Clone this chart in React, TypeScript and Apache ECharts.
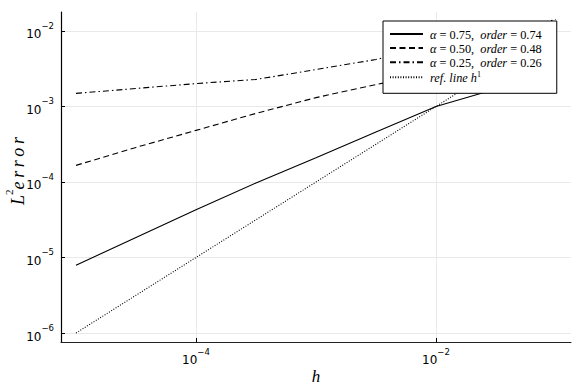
import React, { useEffect, useRef } from 'react';
import * as echarts from 'echarts';

const hValues = [1e-5, 3.16e-5, 1e-4, 3.16e-4, 1e-3, 3.16e-3, 1e-2, 3.16e-2, 1e-1];
const err075 = [7.9e-6, 1.84e-5, 4.3e-5, 9.7e-5, 2.1e-4, 4.6e-4, 1.0e-3, 1.7e-3, 2.5e-3];
const err050 = [1.66e-4, 2.87e-4, 4.82e-4, 8.1e-4, 1.31e-3, 1.95e-3, 2.82e-3, 3.82e-3, 5.18e-3];
const err025 = [1.49e-3, 1.73e-3, 2.01e-3, 2.28e-3, 3.08e-3, 4.19e-3, 6.41e-3, 9.5e-3, 1.42e-2];
const refLine = [1e-6, 3.16e-6, 1e-5, 3.16e-5, 1e-4, 3.16e-4, 1e-3, 3.16e-3, 1e-2];

const alphaLabels = ['0.75', '0.50', '0.25'];
const orderLabels = ['0.74', '0.48', '0.26'];
const refName = 'ref. line h^1';

const xTicks = [1e-4, 1e-2];
const yTicks = [1e-6, 1e-5, 1e-4, 1e-3, 1e-2];

const SERIF = 'Liberation Serif';
const SANS = 'DejaVu Sans';

export default function App() {
  const ref = useRef<HTMLDivElement>(null);
  useEffect(() => {
    const chart = echarts.init(ref.current!, null, { renderer: 'svg' });

    const supLabel = (v: number) => {
      const e = Math.round(Math.log10(v));
      return `{b|10}{s|${e < 0 ? '\u2212' + -e : e}}`;
    };
    const tickRich = {
      b: { fontSize: 12, fontFamily: SANS, color: '#000', verticalAlign: 'bottom', lineHeight: 19 },
      s: { fontSize: 8.5, fontFamily: SANS, color: '#000', verticalAlign: 'top', lineHeight: 9 },
    };

    const names = alphaLabels.map((a, i) => `α = ${a}, order = ${orderLabels[i]}`);
    const richNames: Record<string, string> = {};
    names.forEach((n, i) => {
      richNames[n] = `{g|}{i|α}{n| = ${alphaLabels[i]},  }{i|order}{n| = ${orderLabels[i]}}`;
    });
    richNames[refName] = `{g|}{i|ref. line h}{s|1}`;

    const lineData = (vals: number[]) => hValues.map((h, i) => [h, vals[i]]);
    const mk = (name: string, vals: number[], type: any) => ({
      name,
      type: 'line',
      symbol: 'none',
      data: lineData(vals),
      lineStyle: { color: '#000', width: 1.1, type },
      itemStyle: { color: '#000' },
    });

    const ts = '\u2009';
    const errorText = ['e', 'r', 'r', 'o', 'r'].join(ts);

    chart.setOption({
      animation: false,
      backgroundColor: '#fff',
      grid: { left: 61, right: 13, top: 12, bottom: 47, outerBoundsMode: 'none', containLabel: false },
      xAxis: {
        type: 'log',
        logBase: 10,
        min: Math.pow(10, -5.125),
        max: Math.pow(10, -0.875),
        axisLine: { show: true, lineStyle: { color: '#222', width: 1.2 } },
        axisTick: { show: true, inside: true, length: 4, customValues: xTicks, lineStyle: { color: '#000' } },
        axisLabel: { customValues: xTicks, formatter: supLabel, rich: tickRich, margin: 5 },
        splitLine: { show: true, lineStyle: { color: '#e9e9e9', width: 1 } },
        name: 'h',
        nameLocation: 'middle',
        nameGap: 26,
        nameMoveOverlap: false,
        nameTextStyle: { fontFamily: SERIF, fontStyle: 'italic', fontSize: 17, color: '#000' },
      },
      yAxis: {
        type: 'log',
        logBase: 10,
        min: Math.pow(10, -6.119),
        max: Math.pow(10, -1.749),
        axisLine: { show: true, lineStyle: { color: '#000', width: 1.2 } },
        axisTick: { show: true, inside: true, length: 4, customValues: yTicks, lineStyle: { color: '#000' } },
        axisLabel: { customValues: yTicks, formatter: supLabel, rich: tickRich, margin: 7 },
        splitLine: { show: true, lineStyle: { color: '#e9e9e9', width: 1 } },
        name: `{L|L}{s|2}{i|${errorText}}`,
        nameLocation: 'middle',
        nameGap: 34,
        nameRotate: 90,
        nameMoveOverlap: false,
        nameTextStyle: {
          color: '#000',
          rich: {
            L: { fontFamily: SERIF, fontStyle: 'italic', fontSize: 18, color: '#000', verticalAlign: 'bottom', lineHeight: 24, padding: [0, 0, 0, 12] },
            i: { fontFamily: SERIF, fontStyle: 'italic', fontSize: 18, color: '#000', verticalAlign: 'bottom', lineHeight: 24 },
            s: { fontFamily: SERIF, fontSize: 11, color: '#000', verticalAlign: 'top', lineHeight: 11 },
          },
        },
      },
      legend: {
        orient: 'vertical',
        left: 383,
        top: 21,
        itemWidth: 33,
        itemHeight: 10,
        itemGap: 1.1,
        padding: [7, 15, 9, 6],
        borderColor: '#000',
        borderWidth: 1,
        backgroundColor: '#fff',
        itemStyle: { opacity: 0 },
        data: [...names, refName],
        formatter: (n: string) => richNames[n],
        textStyle: {
          fontFamily: SERIF,
          fontSize: 12.3,
          color: '#000',
          rich: {
            g: { width: 2, lineHeight: 14 },
            i: { fontFamily: SERIF, fontStyle: 'italic', fontSize: 12.3, color: '#000', verticalAlign: 'bottom', lineHeight: 14 },
            n: { fontFamily: SERIF, fontSize: 12.3, color: '#000', verticalAlign: 'bottom', lineHeight: 14 },
            s: { fontFamily: SERIF, fontSize: 8, color: '#000', verticalAlign: 'top', lineHeight: 6 },
          },
        },
      },
      series: [
        mk(names[0], err075, 'solid'),
        mk(names[1], err050, [6, 3.5]),
        mk(names[2], err025, [6, 3, 1.5, 3]),
        mk(refName, refLine, [1, 1.6]),
      ],
    });
    return () => chart.dispose();
  }, []);
  return <div ref={ref} style={{ position: 'fixed', left: 0, top: 0, width: 584, height: 389 }} />;
}
